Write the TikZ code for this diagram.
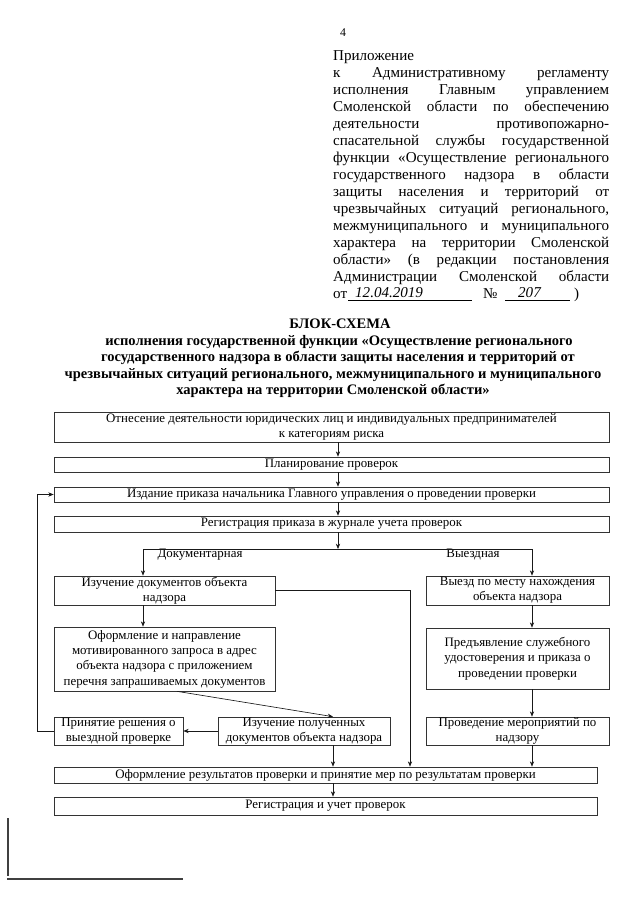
\documentclass[tikz,border=0pt]{standalone}
\usepackage{fontspec}
\setmainfont{Liberation Serif}
\usetikzlibrary{arrows.meta}
\newcommand\mybox[6]{\node[box, minimum width={(#4-#2)*0.9297pt}, minimum height={(#5-#3)*0.9297pt}] (#1) at ({(#2+#4)/2},{(#3+#5)/2}) {#6};}
\newcommand\hl[3]{\node[hdr] (#1) at (333,#2) {\makebox[256.6pt][s]{#3}};}
\tikzset{
 box/.style={draw=black!80, line width=0.6pt, inner sep=0pt, align=center, font=\fontsize{12}{14.2}\selectfont},
 arr/.style={-{Stealth[length=5pt,width=4pt]}, line width=0.6pt, draw=black!90},
 ln/.style={line width=0.6pt, draw=black!90},
 hdr/.style={anchor=base west, inner sep=0pt, font=\fontsize{14}{15.8}\selectfont},
 ttl/.style={anchor=base, inner sep=0pt, font=\fontsize{13.5}{15}\selectfont\bfseries},
 lbl/.style={inner sep=0pt, font=\fontsize{12}{14}\selectfont},
}
\begin{document}
\begin{tikzpicture}[x=0.9297pt, y=-0.9297pt]
\useasboundingbox (0,0) rectangle (640,905);
\fill[white] (0,0) rectangle (640,905);
% page number
\node[inner sep=0pt, font=\fontsize{11}{12}\selectfont] (pn) at (343,33) {4};
% header
\node[hdr] (h1) at (333,60) {Приложение};
\hl{h2}{77}{к Административному регламенту}
\hl{h3}{94}{исполнения Главным управлением}
\hl{h4}{111}{Смоленской области по обеспечению}
\hl{h5}{128}{деятельности противопожарно-}
\hl{h6}{145}{спасательной службы государственной}
\hl{h7}{162}{функции «Осуществление регионального}
\hl{h8}{179}{государственного надзора в области}
\hl{h9}{196}{защиты населения и территорий от}
\hl{h10}{213}{чрезвычайных ситуаций регионального,}
\hl{h11}{230}{межмуниципального и муниципального}
\hl{h12}{247}{характера на территории Смоленской}
\hl{h13}{264}{области» (в редакции постановления}
\hl{h14}{281}{Администрации Смоленской области}
\node[hdr] (h15) at (333,298) {от};
\node[hdr, font=\fontsize{14}{15.8}\selectfont\itshape] (h16) at (355,297) {12.04.2019};
\node[hdr] (h17) at (483,298) {№};
\node[hdr, font=\fontsize{14}{15.8}\selectfont\itshape] (h18) at (518,297) {207};
\node[hdr] (h19) at (574,298) {)};
\draw[line width=0.5pt] (348,300) -- (472,300);
\draw[line width=0.5pt] (505,300) -- (570,300);
% title
\node[ttl] (t1) at (340,328) {БЛОК-СХЕМА};
\node[ttl] (t2) at (339,345) {исполнения государственной функции «Осуществление регионального};
\node[ttl] (t3) at (338,361) {государственного надзора в области защиты населения и территорий от};
\node[ttl] (t4) at (333,378) {чрезвычайных ситуаций регионального, межмуниципального и муниципального};
\node[ttl] (t5) at (333,394) {характера на территории Смоленской области»};
% boxes
\mybox{b1}{54}{412}{609}{442}{Отнесение деятельности юридических лиц и индивидуальных предпринимателей\\к категориям риска}
\mybox{b2}{54}{457}{609}{472}{Планирование проверок}
\mybox{b3}{54}{487}{609}{502}{Издание приказа начальника Главного управления о проведении проверки}
\mybox{b4}{54}{516}{609}{532}{Регистрация приказа в журнале учета проверок}
\mybox{b5}{54}{576}{275}{605}{Изучение документов объекта\\надзора}
\mybox{b6}{54}{627}{275}{691}{Оформление и направление\\мотивированного запроса в адрес\\объекта надзора с приложением\\перечня запрашиваемых документов}
\mybox{r1}{426}{576}{609}{605}{Выезд по месту нахождения\\объекта надзора}
\mybox{r2}{426}{628}{609}{689}{Предъявление служебного\\удостоверения и приказа о\\проведении проверки}
\mybox{b7}{54}{717}{183}{745}{Принятие решения о\\выездной проверке}
\mybox{b8}{218}{717}{390}{745}{Изучение полученных\\документов объекта надзора}
\mybox{r3}{426}{717}{609}{745}{Проведение мероприятий по\\надзору}
\mybox{f1}{54}{767}{597}{783}{Оформление результатов проверки и принятие мер по результатам проверки}
\mybox{f2}{54}{797}{597}{815}{Регистрация и учет проверок}
% labels
\node[lbl] (ld) at (200,555) {Документарная};
\node[lbl] (lv) at (473,555) {Выездная};
% connectors
\coordinate (ax) at (338,0);
\coordinate (j) at (338,549);
\coordinate (jl) at (143,549);
\coordinate (jr) at (532,549);
\coordinate (vx) at (410,590);
\coordinate (d1) at (177,0);
\coordinate (d2) at (333,0);
\coordinate (fb) at (37,0);
\draw[arr] (b1.south -| ax) -- (b2.north -| ax);
\draw[arr] (b2.south -| ax) -- (b3.north -| ax);
\draw[arr] (b3.south -| ax) -- (b4.north -| ax);
\draw[arr] (b4.south -| ax) -- (j);
\draw[ln] (jl) -- (jr);
\draw[arr] (jl) -- (b5.north -| jl);
\draw[arr] (jr) -- (r1.north -| jr);
\draw[arr] (b5.south -| jl) -- (b6.north -| jl);
\draw[arr] (b5.east |- vx) -- (vx) -- (f1.north -| vx);
\draw[arr] (b6.south -| d1) -- (b8.north -| d2);
\draw[arr] (b8.west) -- (b7.east);
\draw[arr] (b7.west) -- (b7.west -| fb) -- (b3.west -| fb) -- (b3.west);
\draw[arr] (b8.south -| d2) -- (f1.north -| d2);
\draw[arr] (r1.south -| jr) -- (r2.north -| jr);
\draw[arr] (r2.south -| jr) -- (r3.north -| jr);
\draw[arr] (r3.south -| jr) -- (f1.north -| jr);
\draw[arr] (f1.south -| d2) -- (f2.north -| d2);
% scan edge lines
\draw[line width=1pt, black!75] (8,818) -- (8,876);
\draw[line width=1pt, black!75] (7,879) -- (183,879);
\end{tikzpicture}
\end{document}
